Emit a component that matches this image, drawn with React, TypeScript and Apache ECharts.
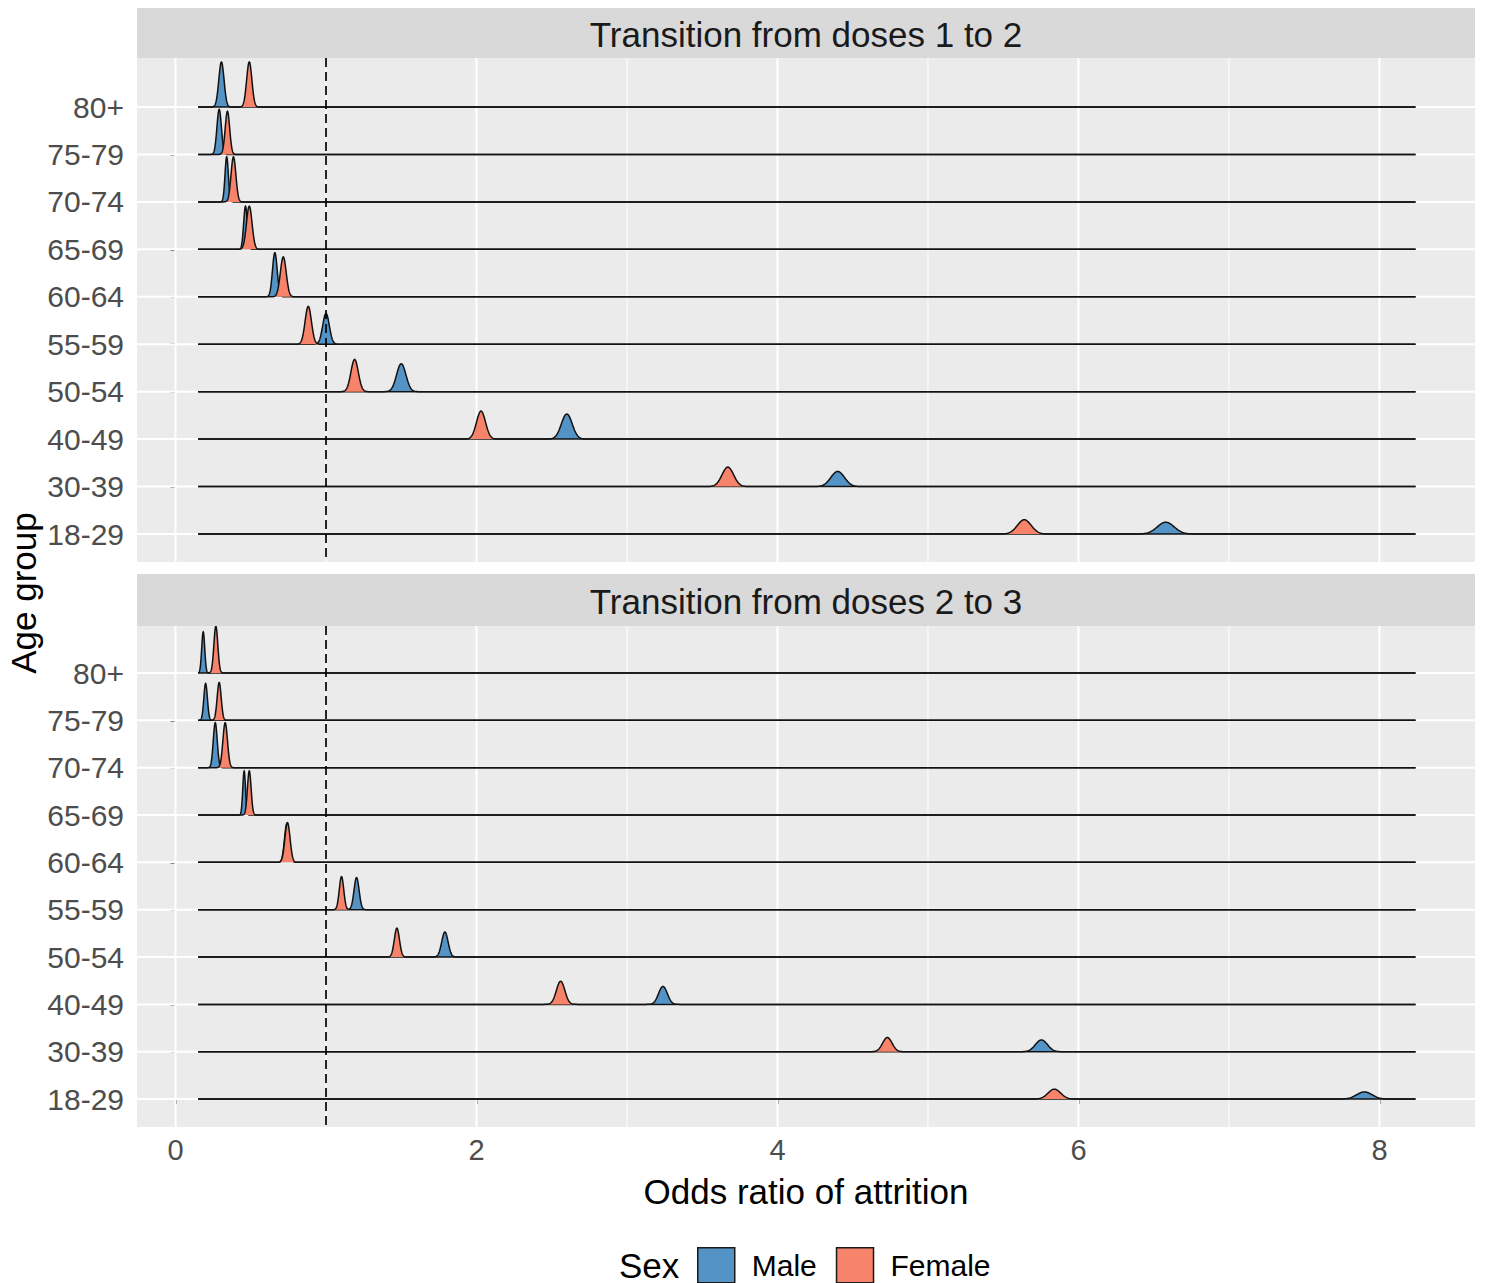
import React, { useEffect, useRef } from 'react';
import * as echarts from 'echarts';

// Age groups, bottom row first
const ageGroups = ['18-29', '30-39', '40-49', '50-54', '55-59', '60-64', '65-69', '70-74', '75-79', '80+'];
const panelTitles = ['Transition from doses 1 to 2', 'Transition from doses 2 to 3'];
const sexes = ['Male', 'Female'];
const xBreaks = [0, 2, 4, 6, 8];
const xMinorBreaks = [1, 3, 5, 7];
const referenceOdds = 1;
const densityRange = [0.15, 8.24];

// Doses 1 -> 2: ridge centre (odds ratio), spread (sd) and peak height (in rows)
const maleCentre12 = [6.58, 4.4, 2.6, 1.5, 1.0, 0.66, 0.465, 0.34, 0.29, 0.305];
const femaleCentre12 = [5.64, 3.67, 2.03, 1.19, 0.882, 0.716, 0.49, 0.385, 0.345, 0.49];
const maleSpread12 = [0.056, 0.045, 0.036, 0.031, 0.022, 0.0157, 0.0123, 0.0112, 0.0149, 0.0174];
const femaleSpread12 = [0.046, 0.0386, 0.03, 0.0246, 0.021, 0.0196, 0.0186, 0.0161, 0.0149, 0.0174];
const malePeak12 = [0.25, 0.32, 0.53, 0.59, 0.65, 0.93, 0.91, 0.95, 0.95, 0.95];
const femalePeak12 = [0.3, 0.41, 0.59, 0.68, 0.8, 0.84, 0.91, 0.95, 0.91, 0.95];

// Doses 2 -> 3
const maleCentre23 = [7.9, 5.754, 3.239, 1.79, 1.203, 0.74, 0.456, 0.264, 0.2, 0.184];
const femaleCentre23 = [5.84, 4.73, 2.559, 1.471, 1.103, 0.744, 0.49, 0.33, 0.29, 0.268];
const maleSpread23 = [0.0515, 0.0398, 0.029, 0.0213, 0.0169, 0.0157, 0.0091, 0.0132, 0.0118, 0.01];
const femaleSpread23 = [0.0419, 0.0314, 0.028, 0.0171, 0.0149, 0.0171, 0.0123, 0.0152, 0.0134, 0.0131];
const malePeak23 = [0.15, 0.25, 0.38, 0.53, 0.68, 0.82, 0.93, 0.95, 0.78, 0.87];
const femalePeak23 = [0.21, 0.3, 0.49, 0.61, 0.7, 0.84, 0.93, 0.95, 0.8, 0.99];

const SEX_COLORS = ['#5393C6', '#F6836A'];
const FONT = 'Liberation Sans, Arial, sans-serif';

const panels = [
  {
    male: { centre: maleCentre12, spread: maleSpread12, peak: malePeak12 },
    female: { centre: femaleCentre12, spread: femaleSpread12, peak: femalePeak12 },
  },
  {
    male: { centre: maleCentre23, spread: maleSpread23, peak: malePeak23 },
    female: { centre: femaleCentre23, spread: femaleSpread23, peak: femalePeak23 },
  },
];

const PANEL_LEFT = 137;
const PANEL_WIDTH = 1338;
const panelBoxes = [
  { top: 58, height: 504, yMin: -0.59, yMax: 10.033 },
  { top: 626, height: 501, yMin: -0.59, yMax: 9.993 },
];
const stripBoxes = [
  { top: 8, height: 50 },
  { top: 574, height: 52 },
];

function ridgeRenderer(sexIdx: number) {
  return (params: any, api: any) => {
    const row = api.value(0);
    const c = api.value(1);
    const s = api.value(2);
    const peak = api.value(3);
    const lo = c - 6 * s;
    const hi = c + 6 * s;
    const xs: number[] = [densityRange[0]];
    const steps = 120;
    for (let i = 0; i <= steps; i++) {
      const x = lo + ((hi - lo) * i) / steps;
      if (x > densityRange[0] && x < densityRange[1]) xs.push(x);
    }
    xs.push(densityRange[1]);
    const pts = xs.map((x) => api.coord([x, row + peak * Math.exp(-0.5 * ((x - c) / s) ** 2)]));
    // lower rows are painted over upper rows, female over male
    const order = ((9 - row) * 2 + sexIdx) * 2 + 10;
    return {
      type: 'group',
      children: [
        { type: 'polygon', shape: { points: pts }, style: { fill: SEX_COLORS[sexIdx], stroke: 'none' }, z2: order },
        {
          type: 'polyline',
          shape: { points: pts },
          style: { fill: 'none', stroke: '#111111', lineWidth: 1.5 },
          z2: order + 1,
        },
      ],
    };
  };
}

function gridRenderer(params: any, api: any) {
  const v = api.value(0);
  const kind = api.value(1);
  const cs = params.coordSys;
  if (kind === 2) {
    const y = api.coord([0, v])[1];
    return {
      type: 'line',
      shape: { x1: cs.x, y1: y, x2: cs.x + cs.width, y2: y },
      style: { stroke: '#ffffff', lineWidth: 2 },
    };
  }
  const x = api.coord([v, 0])[0];
  return {
    type: 'line',
    shape: { x1: x, y1: cs.y, x2: x, y2: cs.y + cs.height },
    style: { stroke: '#ffffff', lineWidth: kind === 0 ? 2 : 1 },
  };
}

function refRenderer(params: any, api: any) {
  const cs = params.coordSys;
  const x = api.coord([api.value(0), 0])[0];
  return {
    type: 'line',
    shape: { x1: x, y1: cs.y, x2: x, y2: cs.y + cs.height },
    style: { stroke: '#000000', lineWidth: 1.7, lineDash: [9, 5] },
  };
}

export default function App() {
  const ref = useRef<HTMLDivElement>(null);

  useEffect(() => {
    if (!ref.current) return;
    const chart = echarts.init(ref.current, undefined, { renderer: 'svg' });

    const rows = ageGroups.map((_, i) => i);
    const series: any[] = [];

    panels.forEach((panel, p) => {
      const gridData = [
        ...xBreaks.map((v) => [v, 0]),
        ...xMinorBreaks.map((v) => [v, 1]),
        ...rows.map((r) => [r, 2]),
      ];
      series.push({
        type: 'custom',
        name: 'grid' + p,
        xAxisIndex: p,
        yAxisIndex: p,
        coordinateSystem: 'cartesian2d',
        silent: true,
        z: 1,
        data: gridData,
        renderItem: gridRenderer,
      });
      [panel.male, panel.female].forEach((d, sexIdx) => {
        series.push({
          type: 'custom',
          name: sexes[sexIdx],
          xAxisIndex: p,
          yAxisIndex: p,
          coordinateSystem: 'cartesian2d',
          z: 2,
          clip: true,
          itemStyle: { color: SEX_COLORS[sexIdx] },
          encode: { x: 1, y: 0 },
          data: rows.map((r) => [r, d.centre[r], d.spread[r], d.peak[r]]),
          renderItem: ridgeRenderer(sexIdx),
        });
      });
      series.push({
        type: 'custom',
        name: 'ref' + p,
        xAxisIndex: p,
        yAxisIndex: p,
        coordinateSystem: 'cartesian2d',
        silent: true,
        z: 3,
        data: [[referenceOdds, 0]],
        renderItem: refRenderer,
      });
    });

    const option: any = {
      animation: false,
      textStyle: { fontFamily: FONT },
      grid: panelBoxes.map((b) => ({
        left: PANEL_LEFT,
        top: b.top,
        width: PANEL_WIDTH,
        height: b.height,
        show: true,
        backgroundColor: '#EBEBEB',
        borderWidth: 0,
        containLabel: false,
      })),
      xAxis: panelBoxes.map((_, p) => ({
        type: 'value',
        gridIndex: p,
        min: -0.256,
        max: 8.635,
        axisLine: { show: false },
        splitLine: { show: false },
        axisTick: {
          show: p === 1,
          customValues: xBreaks,
          length: 5,
          lineStyle: { color: '#333333', width: 1.5 },
        },
        axisLabel: {
          show: p === 1,
          customValues: xBreaks,
          color: '#4D4D4D',
          fontSize: 29,
          fontFamily: FONT,
          margin: 8,
          formatter: (v: number) => String(v),
        },
      })),
      yAxis: panelBoxes.map((b, p) => ({
        type: 'value',
        gridIndex: p,
        min: b.yMin,
        max: b.yMax,
        axisLine: { show: false },
        splitLine: { show: false },
        axisTick: {
          show: true,
          customValues: rows,
          length: 5,
          lineStyle: { color: '#333333', width: 1.5 },
        },
        axisLabel: {
          show: true,
          customValues: rows,
          color: '#4D4D4D',
          fontSize: 30,
          fontFamily: FONT,
          margin: 13,
          formatter: (v: number) => ageGroups[Math.round(v)] ?? '',
        },
      })),
      legend: {
        data: sexes,
        left: 697,
        top: 1247,
        padding: 0,
        itemWidth: 37,
        itemHeight: 35,
        itemGap: 19,
        icon: 'rect',
        selectedMode: false,
        itemStyle: { borderColor: '#1a1a1a', borderWidth: 1.5 },
        formatter: (name: string) => `{gap|}${name}`,
        textStyle: {
          fontSize: 30,
          color: '#000000',
          fontFamily: FONT,
          rich: { gap: { width: 12 } },
        },
      },
      graphic: [
        ...stripBoxes.map((s) => ({
          type: 'rect',
          shape: { x: PANEL_LEFT, y: s.top, width: PANEL_WIDTH, height: s.height },
          style: { fill: '#D9D9D9' },
          z: 0,
        })),
        ...stripBoxes.map((s, i) => ({
          type: 'text',
          x: PANEL_LEFT + PANEL_WIDTH / 2,
          y: s.top + s.height / 2 + 1,
          style: {
            text: panelTitles[i],
            fill: '#1A1A1A',
            font: `35px ${FONT}`,
            align: 'center',
            verticalAlign: 'middle',
          },
        })),
        {
          type: 'text',
          x: PANEL_LEFT + PANEL_WIDTH / 2,
          y: 1191,
          style: {
            text: 'Odds ratio of attrition',
            fill: '#000000',
            font: `35px ${FONT}`,
            align: 'center',
            verticalAlign: 'middle',
          },
        },
        {
          type: 'text',
          x: 23,
          y: 593,
          rotation: Math.PI / 2,
          style: {
            text: 'Age group',
            fill: '#000000',
            font: `35px ${FONT}`,
            align: 'center',
            verticalAlign: 'middle',
          },
        },
        {
          type: 'text',
          x: 619,
          y: 1265,
          style: {
            text: 'Sex',
            fill: '#000000',
            font: `35px ${FONT}`,
            align: 'left',
            verticalAlign: 'middle',
          },
        },
      ],
      series,
    };

    chart.setOption(option);
    return () => chart.dispose();
  }, []);

  return (
    <div
      ref={ref}
      style={{ position: 'absolute', left: 0, top: 0, width: 1485, height: 1283, background: '#ffffff' }}
    />
  );
}
